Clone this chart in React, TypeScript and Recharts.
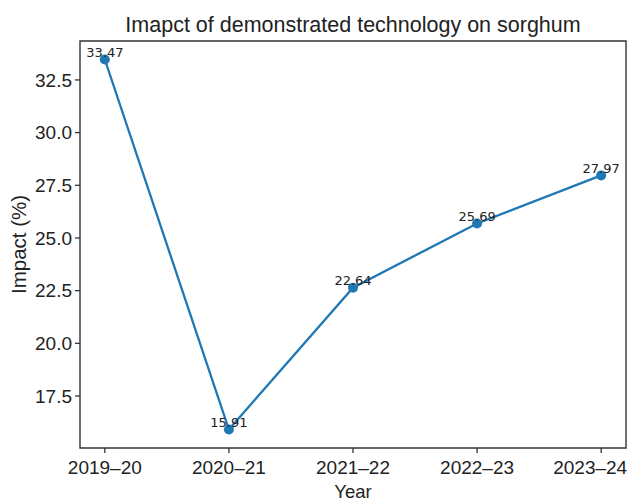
import React from "react";
import { LineChart, Line, XAxis, YAxis, ReferenceArea, LabelList, Label } from "recharts";

const categories: string[] = ["2019–20", "2020–21", "2021–22", "2022–23", "2023–24"];
const impactValues: number[] = [33.47, 15.91, 22.64, 25.69, 27.97];
const yTicks: number[] = [17.5, 20.0, 22.5, 25.0, 27.5, 30.0, 32.5];
const xTicks: number[] = [0, 1, 2, 3, 4];

const data = categories.map((c, i) => ({ x: i, name: c, value: impactValues[i] }));

const vMin = Math.min(...impactValues);
const vMax = Math.max(...impactValues);
const vPad = (vMax - vMin) * 0.05;
const yDomain: [number, number] = [vMin - vPad, vMax + vPad];
const xPad = (categories.length - 1) * 0.05;
const xDomain: [number, number] = [-xPad, categories.length - 1 + xPad];

const SANS = "'Liberation Sans', Arial, Helvetica, sans-serif";
const TEXT = "#222222";
const FRAME = "#333333";
const BLUE = "#1f77b4";

const XTick = (props: any) => {
  const { x, y, payload, index } = props;
  const isLast = index === xTicks.length - 1;
  return (
    <text
      x={x}
      y={y}
      dx={isLast ? -11 : 0}
      dy={13.5}
      textAnchor="middle"
      fontSize={19}
      fill={TEXT}
      fontFamily={SANS}
    >
      {categories[payload.value]}
    </text>
  );
};

export default function App() {
  return (
    <div style={{ position: "absolute", left: 0, top: 0, width: 633, height: 503, background: "#fff" }}>
      <LineChart
        width={633}
        height={503}
        data={data}
        margin={{ top: 41, right: 7, bottom: 25, left: 20 }}
      >
        <XAxis
          dataKey="x"
          type="number"
          domain={xDomain}
          ticks={xTicks}
          allowDataOverflow
          height={30}
          axisLine={false}
          tickLine={{ stroke: FRAME, strokeWidth: 1.3 }}
          tickSize={5}
          tickMargin={7}
          tick={<XTick />}
          interval={0}
        >
          <Label
            content={(props: any) => {
              const vb = props.viewBox;
              return (
                <text
                  x={vb.x + vb.width / 2}
                  y={vb.y + 49.7}
                  textAnchor="middle"
                  fontSize={18.5}
                  fill={TEXT}
                  fontFamily={SANS}
                >
                  Year
                </text>
              );
            }}
          />
        </XAxis>
        <YAxis
          type="number"
          domain={yDomain}
          ticks={yTicks}
          allowDataOverflow
          width={60}
          axisLine={false}
          tickLine={{ stroke: FRAME, strokeWidth: 1.3 }}
          tickSize={5}
          tickMargin={3}
          tick={{ fontSize: 19, fill: TEXT, fontFamily: SANS }}
          tickFormatter={(v: number) => v.toFixed(1)}
          interval={0}
        >
          <Label
            content={(props: any) => {
              const vb = props.viewBox;
              const cx = 26;
              const cy = vb.y + vb.height / 2;
              return (
                <text
                  x={cx}
                  y={cy}
                  transform={`rotate(-90, ${cx}, ${cy})`}
                  textAnchor="middle"
                  fontSize={20.5}
                  fill={TEXT}
                  fontFamily={SANS}
                >
                  Impact (%)
                </text>
              );
            }}
          />
        </YAxis>
        <ReferenceArea
          x1={xDomain[0]}
          x2={xDomain[1]}
          y1={yDomain[0]}
          y2={yDomain[1]}
          fill="none"
          fillOpacity={0}
          stroke={FRAME}
          strokeWidth={1.4}
          ifOverflow="visible"
        >
          <Label
            content={(props: any) => {
              const vb = props.viewBox;
              return (
                <text
                  x={vb.x + vb.width / 2}
                  y={vb.y - 9.3}
                  textAnchor="middle"
                  fontSize={21.5}
                  fill={TEXT}
                  fontFamily={SANS}
                >
                  Imapct of demonstrated technology on sorghum
                </text>
              );
            }}
          />
        </ReferenceArea>
        <Line
          type="linear"
          dataKey="value"
          stroke={BLUE}
          strokeWidth={2.3}
          dot={{ r: 5, fill: BLUE, stroke: BLUE, strokeWidth: 0 }}
          activeDot={false}
          isAnimationActive={false}
        >
          <LabelList
            dataKey="value"
            content={(props: any) => (
              <text
                x={props.x}
                y={props.y - 2.5}
                textAnchor="middle"
                fontSize={13}
                fill={TEXT}
                fontFamily="'DejaVu Sans', sans-serif"
              >
                {Number(props.value).toFixed(2)}
              </text>
            )}
          />
        </Line>
      </LineChart>
    </div>
  );
}
